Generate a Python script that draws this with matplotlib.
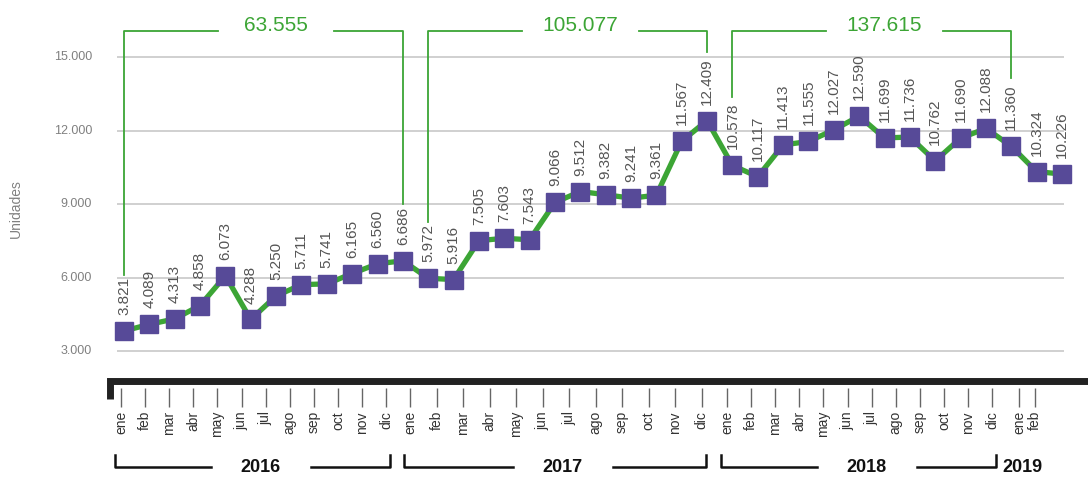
import numpy as np
import matplotlib.pyplot as plt

plt.rcParams['font.family'] = ['Liberation Sans Narrow', 'Liberation Sans', 'DejaVu Sans']

months = ['ene', 'feb', 'mar', 'abr', 'may', 'jun', 'jul', 'ago', 'sep', 'oct', 'nov', 'dic']
years = ['2016', '2017', '2018', '2019']
v2016 = [3821, 4089, 4313, 4858, 6073, 4288, 5250, 5711, 5741, 6165, 6560, 6686]
v2017 = [5972, 5916, 7505, 7603, 7543, 9066, 9512, 9382, 9241, 9361, 11567, 12409]
v2018 = [10578, 10117, 11413, 11555, 12027, 12590, 11699, 11736, 10762, 11690, 12088, 11360]
v2019 = [10324, 10226]
yticks = [3000, 6000, 9000, 12000, 15000]

series = [v2016, v2017, v2018, v2019]
values = sum(series, [])
labels = sum([months[:len(s)] for s in series], [])
x = np.arange(len(values))

GREEN = '#3ca535'
PURPLE = '#574a98'


def fmt(v):
    return f'{v:,}'.replace(',', '.')


fig = plt.figure(figsize=(10.88, 4.8), dpi=100)

# zona principal (pixeles 0..365 en vertical)
ax = fig.add_axes([0, 115 / 480, 1, 365 / 480])
X0, DX = 124, 25.35
ax.set_xlim(-X0 / DX, (1088 - X0) / DX)
ax.set_ylim(2430, 17330)
ax.axis('off')

ax.hlines(yticks, -0.28, 37.1, color='#c8c8c8', lw=1.2, zorder=1)
for t in yticks:
    ax.text(-1.26, t, fmt(t), ha='right', va='center', fontsize=9,
            color='#808080', family='Liberation Sans')
ax.text(-4.27, 8800, 'Unidades', rotation=90, ha='center', va='center',
        fontsize=10, color='#808080', family='Liberation Sans')

ax.plot(x, values, color=GREEN, lw=3.8, zorder=2)
ax.plot(x, values, ls='none', marker='s', ms=13.5, mfc=PURPLE, mec=PURPLE, zorder=3)
for i, v in zip(x, values):
    ax.annotate(fmt(v), (i, v), xytext=(0, 11.5), textcoords='offset points',
                rotation=90, ha='center', va='bottom', fontsize=11, color='#555555')

# llaves verdes con el total anual
start = 0
top = 16060
for s in series[:3]:
    i0, i1 = start, start + len(s) - 1
    c = (i0 + i1) / 2 + 0.5
    y0 = s[0] + (2800 if s[0] >= 10000 else 2300)
    y1 = s[-1] + (2800 if s[-1] >= 10000 else 2300)
    ax.plot([i0, i0, c - 2.3], [y0, top, top], color=GREEN, lw=1.3)
    ax.plot([c + 2.3, i1, i1], [top, top, y1], color=GREEN, lw=1.3)
    ax.text(c, 16300, fmt(sum(s)), ha='center', va='center', fontsize=15,
            color=GREEN, family='Liberation Sans')
    start += len(s)

# eje inferior de meses y años (coordenadas en pixeles)
ax2 = fig.add_axes([0, 0, 1, 115 / 480])
ax2.set_xlim(0, 1088)
ax2.set_ylim(480, 365)
ax2.axis('off')
year_start = [121, 410, 727, 1019]
year_step = [24.1, 26.5, 24.1, 16]
tx = np.concatenate([x0 + st * np.arange(len(s))
                     for x0, st, s in zip(year_start, year_step, series)])
ax2.plot([110, 110, 1088], [399, 380.5, 380.5], color='#222222', lw=5,
         solid_joinstyle='miter', solid_capstyle='butt')
ax2.vlines(tx, 388, 407, color='#666666', lw=1)
for xi, lab in zip(tx, labels):
    ax2.text(xi, 411, lab, rotation=90, ha='center', va='top', fontsize=10, color='#333333')

start = 0
for yr, s in zip(years, series):
    i0, i1 = start, start + len(s) - 1
    if len(s) == 12:
        left, right = tx[i0] - 6, tx[i1] + 4
        c = (left + right) / 2 + 8
        ax2.plot([left, left, c - 50], [455, 467, 467], color='#111111', lw=1.8)
        ax2.plot([c + 50, right, right], [467, 467, 455], color='#111111', lw=1.8)
    else:
        c = (tx[i0] + tx[i1]) / 2 - 5
    ax2.text(c, 467, yr, ha='center', va='center', fontsize=13, fontweight='bold', color='#111111')
    start += len(s)

fig.savefig('out.png', dpi=100)
